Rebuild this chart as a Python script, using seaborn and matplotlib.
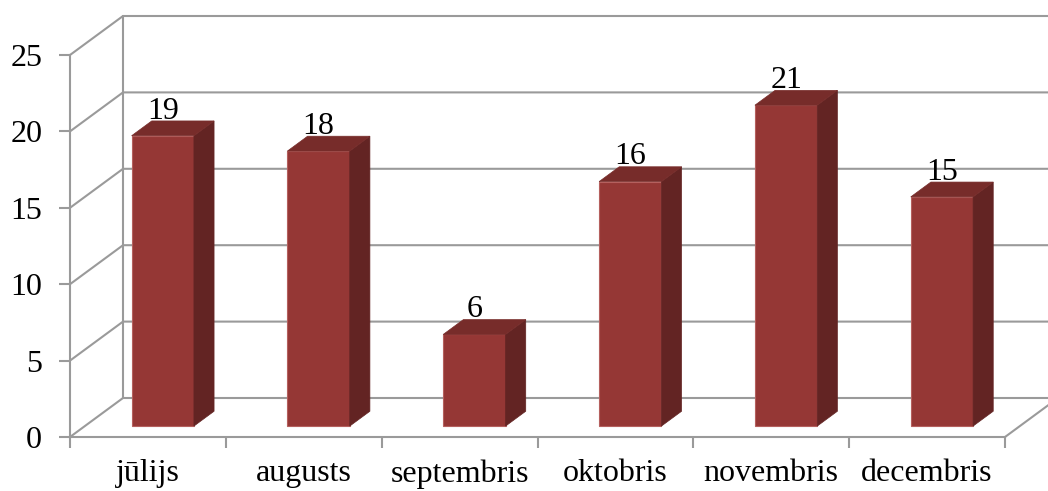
import matplotlib
matplotlib.use("Agg")
import matplotlib.pyplot as plt
from matplotlib.patches import Polygon
import seaborn as sns

# === data ===
months = ["jūlijs", "augusts", "septembris", "oktobris", "novembris", "decembris"]
values = [19, 18, 6, 16, 21, 15]
y_ticks = [0, 5, 10, 15, 20, 25]

# === style ===
sns.set_style("white")
plt.rcParams["font.family"] = ["Liberation Serif", "DejaVu Serif"]
plt.rcParams["text.color"] = "black"
plt.rcParams["xtick.color"] = "black"
plt.rcParams["ytick.color"] = "black"

front_col = "#953735"
side_col = "#632423"
top_col = "#772c2a"
grid_col = "#9a9a9a"
fs = 23

fig = plt.figure(figsize=(10.48, 4.91), dpi=100)
ax = fig.add_axes([70 / 1048, 54 / 491, 978 / 1048, 437 / 491])

sns.barplot(x=months, y=values, ax=ax, width=0.4, color=front_col,
            saturation=1, edgecolor="#b5605e", linewidth=0.8, zorder=3)

# pseudo-3D depth (in data units)
px_x = 935 / 6          # pixels per category
px_y = 382 / 25         # pixels per value unit
ddx = 53 / px_x
ddy = 39 / px_y
d0, d1 = 0.28, 0.66     # front / back depth of bars

xl, xr = -0.5, len(months) - 0.5
ymax = y_ticks[-1]

# back wall + gridlines
for t in y_ticks:
    ax.plot([xl, xl + ddx, xr + ddx], [t, t + ddy, t + ddy],
            color=grid_col, lw=1.5, zorder=1, clip_on=False)
ax.plot([xl + ddx, xl + ddx], [ddy, ymax + ddy], color=grid_col, lw=1.5, zorder=1)
ax.plot([xr, xr + ddx], [0, ddy], color=grid_col, lw=1.5, zorder=1, clip_on=False)

# shift bars into depth and add side/top faces
for p, v in zip(ax.patches, values):
    x0 = p.get_x() + d0 * ddx
    w = p.get_width()
    p.set_x(x0)
    p.set_y(d0 * ddy)
    p.set_height(v)
    b = d0 * ddy
    sx = (d1 - d0) * ddx
    sy = (d1 - d0) * ddy
    side = Polygon([(x0 + w, b), (x0 + w + sx, b + sy), (x0 + w + sx, b + v + sy), (x0 + w, b + v)],
                   closed=True, facecolor=side_col, edgecolor=side_col, lw=0.5, zorder=3)
    top = Polygon([(x0, b + v), (x0 + w, b + v), (x0 + w + sx, b + v + sy), (x0 + sx, b + v + sy)],
                  closed=True, facecolor=top_col, edgecolor=top_col, lw=0.5, zorder=3)
    ax.add_patch(side)
    ax.add_patch(top)
    ax.text(x0 + w / 2, d1 * ddy + v + 0.15, str(v), ha="center", va="baseline",
            fontsize=fs, zorder=4)

ax.set_xlim(xl, xl + 978 / px_x)
ax.set_ylim(0, 437 / px_y)

# axes
for s in ["top", "right"]:
    ax.spines[s].set_visible(False)
for s in ["left", "bottom"]:
    ax.spines[s].set_color(grid_col)
    ax.spines[s].set_linewidth(1.5)
ax.spines["left"].set_bounds(0, ymax)
ax.spines["bottom"].set_bounds(xl, xr)

ax.set_yticks(y_ticks)
ax.tick_params(axis="y", length=8, width=1.5, color=grid_col, labelcolor="black",
               pad=12, labelsize=fs, left=True)
ax.set_xticks(range(len(months)))
ax.set_xticklabels(months)
ax.set_xticks([i - 0.5 for i in range(len(months) + 1)], minor=True)
ax.tick_params(axis="x", which="major", length=0, pad=16, labelsize=fs, labelcolor="black")
ax.tick_params(axis="x", which="minor", length=8, width=1.5, color=grid_col, bottom=True)
ax.set_xlabel("")
ax.set_ylabel("")
ax.grid(False)

fig.savefig("out.png", dpi=100)
